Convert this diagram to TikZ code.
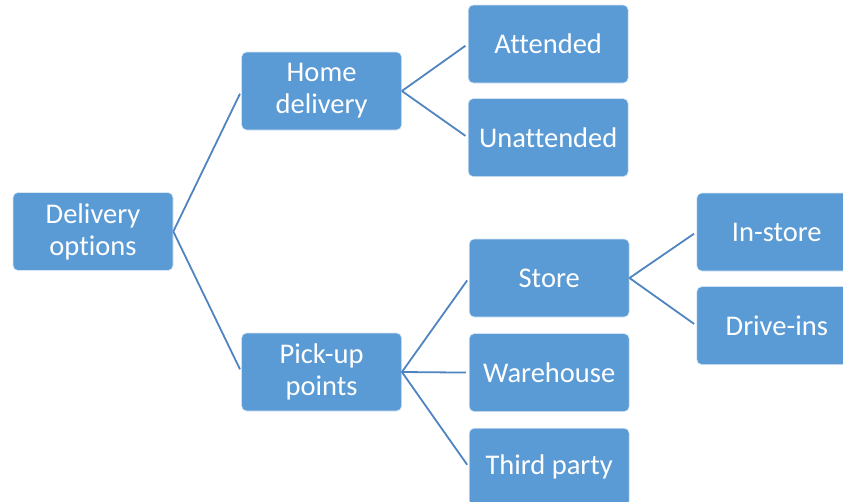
\documentclass[tikz,border=0pt]{standalone}
\usepackage{fontspec}
\setmainfont{Carlito}[Ligatures=CommonOff]
\usetikzlibrary{positioning}
\definecolor{boxblue}{HTML}{5B9BD5}
\definecolor{lineblue}{HTML}{4F84C0}

\begin{document}
\begin{tikzpicture}[
        x=1pt, y=-1pt,
        box/.style={rectangle, draw=white!75!boxblue, line width=0.6pt, fill=boxblue, text=white, rounded corners=5pt, minimum width=160pt, minimum height=78pt, align=center, font=\fontsize{28.5}{32}\selectfont},
        link/.style={draw=lineblue, line width=1.8pt, shorten >=3pt}
      ]
        \useasboundingbox (0,0) rectangle (843,501);
        \clip (0,0) rectangle (843,501);

        % Root
        \node[box] (delivery) at (93,231.5) {Delivery\\options};

        % First level
        \node[box, right=68pt of delivery, yshift=140.5pt] (home) {Home\\delivery};
        \node[box, right=68pt of delivery, yshift=-140.5pt] (pickup) {Pick-up\\points};

        % Home delivery branch
        \node[box, right=66pt of home, yshift=47pt] (attended) {Attended};
        \node[box, below=15pt of attended] (unattended) {Unattended};

        % Pick-up branch
        \node[box, right=67pt of pickup, yshift=94pt] (store) {Store};
        \node[box, below=16pt of store] (warehouse) {Warehouse};
        \node[box, below=16pt of warehouse] (third) {Third party};

        % Store branch
        \node[box, right=67pt of store, yshift=46pt] (instore) {In-store};
        \node[box, below=15pt of instore] (drivein) {Drive-ins};

        % Links
        \draw[link] (delivery.east) -- (home.west);
        \draw[link] (delivery.east) -- (pickup.west);
        \draw[link] (home.east) -- (attended.west);
        \draw[link] (home.east) -- (unattended.west);
        \draw[link] (pickup.east) -- (store.west);
        \draw[link] (pickup.east) -- (warehouse.west);
        \draw[link] (pickup.east) -- (third.west);
        \draw[link] (store.east) -- (instore.west);
        \draw[link] (store.east) -- (drivein.west);
      \end{tikzpicture}
\end{document}
